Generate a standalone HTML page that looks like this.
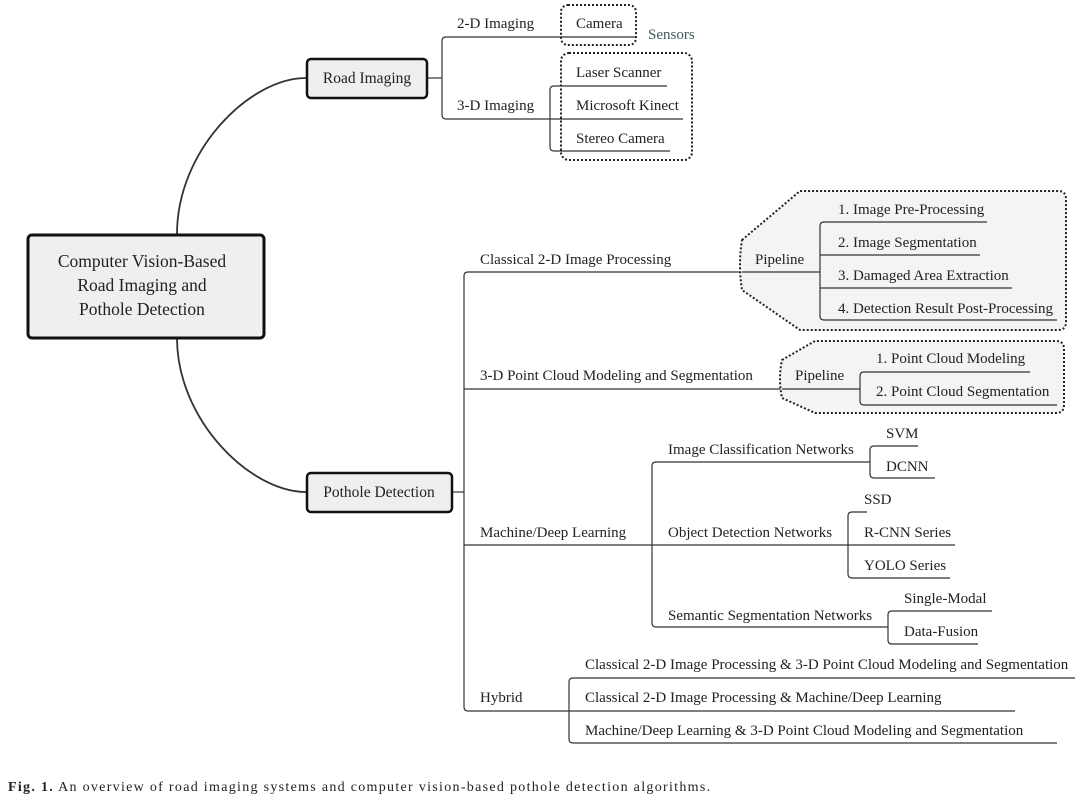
<!DOCTYPE html>
<html><head><meta charset="utf-8"><style>
html,body{margin:0;padding:0;background:#fff;}
svg{display:block;}
text{font-family:"Liberation Serif",serif;font-size:15px;fill:#222;}
</style></head><body>
<svg width="1080" height="798" viewBox="0 0 1080 798" xmlns="http://www.w3.org/2000/svg">
<g fill="none" stroke="#333" stroke-width="1.2">
<path d="M177,234 C177,150 250,78 306,78" stroke-width="1.8"/>
<path d="M177,338 C177,420 250,492 306,492" stroke-width="1.8"/>
<path d="M427,78 H442"/>
<path d="M636,37 H446 Q442,37 442,41 V115 Q442,119 446,119 H683"/>
<path d="M667,86 H554 Q550,86 550,90 V147 Q550,151 554,151 H670"/>
<path d="M452,492 H464"/>
<path d="M820,272 H468 Q464,272 464,276 V707 Q464,711 468,711 H1015"/>
<path d="M464,389 H860"/>
<path d="M464,545 H955"/>
<path d="M870,462 H656 Q652,462 652,466 V623 Q652,627 656,627 H888"/>
<path d="M918,446 H874 Q870,446 870,450 V474 Q870,478 874,478 H935"/>
<path d="M867,512 H852 Q848,512 848,516 V574 Q848,578 852,578 H950"/>
<path d="M992,611 H892 Q888,611 888,615 V640 Q888,644 892,644 H978"/>
<path d="M1075,678 H573 Q569,678 569,682 V739 Q569,743 573,743 H1057"/>
</g>
<g fill="none" stroke="#222" stroke-width="2" stroke-dasharray="2,2">
<rect x="561" y="5" width="75" height="40" rx="7"/>
<rect x="561" y="53" width="131" height="107" rx="8"/>
</g>
<path d="M742,240 L800,191 H1058 Q1066,191 1066,199 V322 Q1066,330 1058,330 H800 L742,290 Q738,265 742,240 Z" fill="#f4f4f4" stroke="#222" stroke-width="2" stroke-dasharray="2,2"/>
<path d="M782,360 L815,341 H1056 Q1064,341 1064,349 V405 Q1064,413 1056,413 H815 L782,398 Q778,379 782,360 Z" fill="#f4f4f4" stroke="#222" stroke-width="2" stroke-dasharray="2,2"/>
<g fill="none" stroke="#333" stroke-width="1.2">
<path d="M742,272 H820 M782,389 H860"/>
<path d="M987,222 H824 Q820,222 820,226 V316 Q820,320 824,320 H1057"/>
<path d="M820,255 H980 M820,288 H1012"/>
<path d="M1030,372 H864 Q860,372 860,376 V401 Q860,405 864,405 H1057"/>
</g>
<rect x="28" y="235" width="236" height="103" rx="4" fill="#efefef" stroke="#111" stroke-width="3"/>
<text x="142" y="267" text-anchor="middle" style="font-size:17.5px">Computer Vision-Based</text>
<text x="142" y="291" text-anchor="middle" style="font-size:17.5px">Road Imaging and</text>
<text x="142" y="315" text-anchor="middle" style="font-size:17.5px">Pothole Detection</text>
<rect x="307" y="59" width="120" height="39" rx="4" fill="#efefef" stroke="#111" stroke-width="2.5"/>
<text x="367" y="83" text-anchor="middle" style="font-size:15.5px">Road Imaging</text>
<rect x="307" y="473" width="145" height="39" rx="4" fill="#efefef" stroke="#111" stroke-width="2.5"/>
<text x="379" y="497" text-anchor="middle" style="font-size:15.5px">Pothole Detection</text>
<text x="457" y="28">2-D Imaging</text>
<text x="457" y="110">3-D Imaging</text>
<text x="576" y="28">Camera</text>
<text x="648" y="39" style="fill:#3d5a5a">Sensors</text>
<text x="576" y="77">Laser Scanner</text>
<text x="576" y="110">Microsoft Kinect</text>
<text x="576" y="143">Stereo Camera</text>
<text x="480" y="264">Classical 2-D Image Processing</text>
<text x="755" y="264">Pipeline</text>
<text x="838" y="214">1. Image Pre-Processing</text>
<text x="838" y="247">2. Image Segmentation</text>
<text x="838" y="280">3. Damaged Area Extraction</text>
<text x="838" y="313">4. Detection Result Post-Processing</text>
<text x="480" y="380">3-D Point Cloud Modeling and Segmentation</text>
<text x="795" y="380">Pipeline</text>
<text x="876" y="363">1. Point Cloud Modeling</text>
<text x="876" y="396">2. Point Cloud Segmentation</text>
<text x="480" y="537">Machine/Deep Learning</text>
<text x="668" y="454">Image Classification Networks</text>
<text x="886" y="438">SVM</text>
<text x="886" y="471">DCNN</text>
<text x="668" y="537">Object Detection Networks</text>
<text x="864" y="504">SSD</text>
<text x="864" y="537">R-CNN Series</text>
<text x="864" y="570">YOLO Series</text>
<text x="668" y="620">Semantic Segmentation Networks</text>
<text x="904" y="603">Single-Modal</text>
<text x="904" y="636">Data-Fusion</text>
<text x="480" y="702">Hybrid</text>
<text x="585" y="669">Classical 2-D Image Processing &amp; 3-D Point Cloud Modeling and Segmentation</text>
<text x="585" y="702">Classical 2-D Image Processing &amp; Machine/Deep Learning</text>
<text x="585" y="735">Machine/Deep Learning &amp; 3-D Point Cloud Modeling and Segmentation</text>
<text x="8" y="791" style="font-size:14px;letter-spacing:1.3px"><tspan style="font-weight:bold">Fig. 1.</tspan> An overview of road imaging systems and computer vision-based pothole detection algorithms.</text>
</svg>
</body></html>
